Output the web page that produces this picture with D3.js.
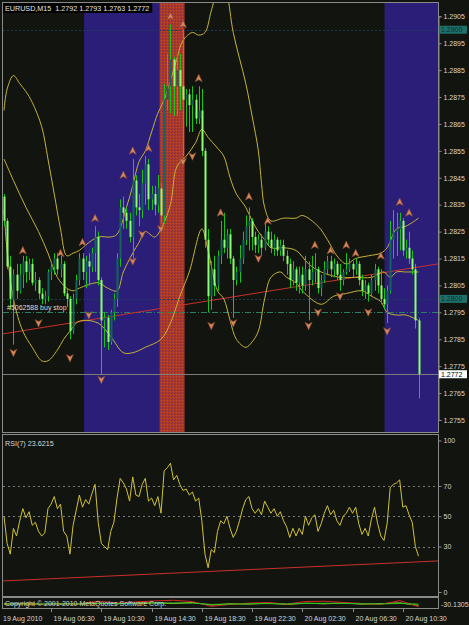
<!DOCTYPE html>
<html>
<head>
<meta charset="utf-8">
<script src="https://cdn.jsdelivr.net/npm/d3@7"></script>
<style>
  body { margin: 0; background: #12150f; }
  svg { display: block; font-family: "Liberation Sans", Arial, sans-serif; }
</style>
</head>
<body>
<script>
// EURUSD M15, 19 Aug 2010 02:45 .. 20 Aug 2010 11:45 (133 bars)
var opens = [1.2838,1.2829,1.2812,1.2800,1.2809,1.2803,1.2809,1.2814,1.2810,1.2813,1.2806,1.2807,1.2802,1.2800,1.2801,1.2810,1.2812,1.2815,1.2811,1.2813,
  1.2802,1.2800,1.2788,1.2800,1.2807,1.2815,1.2810,1.2814,1.2812,1.2817,1.2823,1.2807,1.2792,1.2793,1.2784,1.2795,1.2800,1.2815,1.2834,1.2832,
  1.2829,1.2823,1.2844,1.2834,1.2833,1.2843,1.2850,1.2837,1.2839,1.2835,1.2841,1.2831,1.2874,1.2879,1.2889,1.2879,1.2885,1.2879,1.2874,1.2876,
  1.2872,1.2874,1.2867,1.2870,1.2855,1.2822,1.2801,1.2811,1.2805,1.2816,1.2822,1.2819,1.2824,1.2815,1.2807,1.2810,1.2815,1.2822,1.2827,1.2829,
  1.2823,1.2820,1.2822,1.2819,1.2825,1.2822,1.2819,1.2822,1.2818,1.2820,1.2816,1.2813,1.2807,1.2811,1.2806,1.2809,1.2805,1.2811,1.2807,1.2810,
  1.2811,1.2804,1.2807,1.2811,1.2814,1.2811,1.2813,1.2809,1.2807,1.2810,1.2811,1.2813,1.2811,1.2813,1.2807,1.2803,1.2805,1.2802,1.2807,1.2811,
  1.2805,1.2800,1.2798,1.2803,1.2822,1.2825,1.2826,1.2829,1.2818,1.2819,1.2815,1.2811,1.2792];
var highs = [1.2839,1.2830,1.2816,1.2811,1.2813,1.2813,1.2816,1.2816,1.2815,1.2815,1.2810,1.2808,1.2804,1.2803,1.2811,1.2814,1.2817,1.2817,1.2816,1.2814,
  1.2804,1.2801,1.2802,1.2809,1.2817,1.2817,1.2816,1.2817,1.2819,1.2827,1.2825,1.2808,1.2795,1.2794,1.2796,1.2802,1.2817,1.2837,1.2838,1.2834,
  1.2832,1.2852,1.2846,1.2839,1.2848,1.2853,1.2852,1.2842,1.2842,1.2846,1.2843,1.2880,1.2891,1.2902,1.2890,1.2891,1.2891,1.2900,1.2878,1.2878,
  1.2879,1.2876,1.2879,1.2878,1.2856,1.2826,1.2814,1.2816,1.2818,1.2829,1.2832,1.2826,1.2826,1.2816,1.2812,1.2820,1.2825,1.2831,1.2834,1.2830,
  1.2825,1.2824,1.2824,1.2829,1.2827,1.2825,1.2824,1.2823,1.2822,1.2822,1.2818,1.2815,1.2814,1.2812,1.2812,1.2812,1.2816,1.2814,1.2816,1.2817,
  1.2812,1.2809,1.2814,1.2816,1.2816,1.2815,1.2814,1.2813,1.2811,1.2817,1.2815,1.2814,1.2815,1.2814,1.2809,1.2807,1.2806,1.2809,1.2813,1.2812,
  1.2811,1.2804,1.2805,1.2829,1.2833,1.2832,1.2832,1.2830,1.2822,1.2825,1.2818,1.2813,1.2793];
var lows = [1.2827,1.2811,1.2796,1.2783,1.2800,1.2802,1.2804,1.2806,1.2807,1.2805,1.2803,1.2800,1.2798,1.2798,1.2799,1.2807,1.2809,1.2809,1.2808,1.2801,
  1.2797,1.2785,1.2787,1.2798,1.2805,1.2807,1.2804,1.2805,1.2810,1.2810,1.2805,1.2772,1.2782,1.2781,1.2783,1.2792,1.2797,1.2812,1.2826,1.2826,
  1.2821,1.2815,1.2831,1.2827,1.2830,1.2835,1.2833,1.2833,1.2831,1.2832,1.2828,1.2828,1.2870,1.2869,1.2868,1.2868,1.2870,1.2853,1.2864,1.2862,
  1.2862,1.2865,1.2865,1.2853,1.2819,1.2795,1.2796,1.2801,1.2803,1.2813,1.2817,1.2815,1.2813,1.2793,1.2805,1.2806,1.2813,1.2820,1.2818,1.2818,
  1.2817,1.2817,1.2816,1.2818,1.2820,1.2817,1.2816,1.2816,1.2816,1.2814,1.2809,1.2804,1.2805,1.2803,1.2802,1.2802,1.2803,1.2792,1.2805,1.2806,
  1.2802,1.2801,1.2806,1.2809,1.2808,1.2808,1.2807,1.2803,1.2805,1.2809,1.2810,1.2808,1.2809,1.2805,1.2801,1.2800,1.2799,1.2801,1.2803,1.2802,
  1.2798,1.2796,1.2791,1.2802,1.2815,1.2816,1.2818,1.2816,1.2815,1.2813,1.2809,1.2789,1.2763];
var closes = [1.2829,1.2812,1.2800,1.2809,1.2803,1.2809,1.2814,1.2810,1.2813,1.2806,1.2807,1.2802,1.2800,1.2801,1.2810,1.2812,1.2815,1.2811,1.2813,1.2802,
  1.2800,1.2788,1.2800,1.2807,1.2815,1.2810,1.2814,1.2812,1.2817,1.2823,1.2807,1.2792,1.2793,1.2784,1.2795,1.2800,1.2815,1.2834,1.2832,1.2829,
  1.2823,1.2844,1.2834,1.2833,1.2843,1.2850,1.2837,1.2839,1.2835,1.2841,1.2831,1.2874,1.2879,1.2889,1.2879,1.2885,1.2879,1.2874,1.2876,1.2872,
  1.2874,1.2867,1.2870,1.2855,1.2822,1.2801,1.2811,1.2805,1.2816,1.2822,1.2819,1.2824,1.2815,1.2807,1.2810,1.2815,1.2822,1.2827,1.2829,1.2823,
  1.2820,1.2822,1.2819,1.2825,1.2822,1.2819,1.2822,1.2818,1.2820,1.2816,1.2813,1.2807,1.2811,1.2806,1.2809,1.2805,1.2811,1.2807,1.2810,1.2811,
  1.2804,1.2807,1.2811,1.2814,1.2811,1.2813,1.2809,1.2807,1.2810,1.2811,1.2813,1.2811,1.2813,1.2807,1.2803,1.2805,1.2802,1.2807,1.2811,1.2805,
  1.2800,1.2798,1.2803,1.2822,1.2825,1.2826,1.2829,1.2818,1.2819,1.2815,1.2811,1.2792,1.2772];

// Bollinger bands as [bar, price]
var bbUpper = [[0,1.2870],[1,1.2878],[3,1.2883],[5,1.2880],[7,1.2877],[9,1.2873],[12,1.2864],[14,1.2852],[16,1.2839],[18,1.2826],
  [20,1.2816],[22,1.2817],[24,1.2818],[26,1.2820],[30,1.2823],[34,1.2823],[36,1.2824],[39,1.2834],[41,1.2842],[43,1.2851],
  [45,1.2855],[47,1.2862],[49,1.2869],[51,1.2874],[53,1.2881],[55,1.2889],[57,1.2896],[60,1.2899],[62,1.2898],[64,1.2899],
  [66,1.2907],[68,1.2914],[70,1.2915],[71,1.2913],[73,1.2899],[77,1.2880],[79,1.2868],[81,1.2855],[82,1.2843],[83,1.2834],
  [85,1.2829],[89,1.2830],[93,1.2830],[95,1.2831],[100,1.2827],[103,1.2822],[106,1.2816],[109,1.2813],[112,1.2815],[116,1.2816],
  [120,1.2817],[122,1.2819],[125,1.2826],[128,1.2827],[132,1.2830]];
var bbMiddle = [[0,1.2852],[3,1.2844],[7,1.2834],[11,1.2825],[14,1.2817],[17,1.2808],[20,1.2804],[22,1.2803],[24,1.2804],[30,1.2806],
  [33,1.2804],[36,1.2803],[38,1.2810],[41,1.2817],[43,1.2821],[45,1.2825],[48,1.2823],[50,1.2826],[53,1.2835],[55,1.2849],
  [58,1.2853],[61,1.2858],[63,1.2863],[65,1.2860],[68,1.2856],[70,1.2853],[72,1.2845],[74,1.2839],[77,1.2834],[79,1.2829],
  [81,1.2825],[83,1.2822],[85,1.2819],[89,1.2819],[93,1.2818],[97,1.2813],[101,1.2810],[107,1.2808],[112,1.2808],[117,1.2808],
  [121,1.2810],[123,1.2808],[125,1.2810],[128,1.2810],[132,1.2810]];
var bbLower = [[0,1.2833],[1,1.2818],[3,1.2800],[6,1.2788],[9,1.2782],[12,1.2777],[14,1.2777],[17,1.2781],[19,1.2785],[21,1.2788],
  [23,1.2791],[25,1.2792],[30,1.2791],[34,1.2786],[38,1.2780],[41,1.2780],[45,1.2782],[50,1.2785],[53,1.2791],[56,1.2801],
  [59,1.2810],[63,1.2826],[65,1.2818],[68,1.2803],[70,1.2800],[72,1.2792],[74,1.2785],[77,1.2782],[79,1.2784],[81,1.2788],
  [83,1.2800],[85,1.2808],[88,1.2810],[90,1.2808],[93,1.2806],[95,1.2803],[101,1.2798],[105,1.2801],[109,1.2802],[114,1.2803],
  [117,1.2801],[120,1.2799],[122,1.2795],[125,1.2794],[128,1.2794],[132,1.2792]];

// fractal arrows
var upBars = [6,18,25,29,38,41,46,53,57,62,69,78,84,99,104,109,112,120,126,129];
var upPrices = [1.2818,1.2817,1.2821,1.2830,1.2846,1.2855,1.2856,1.2905,1.2902,1.2882,1.2832,1.2838,1.2829,1.2820,1.2818,1.2820,1.2817,1.2816,1.2836,1.2832];
var downBars = [3,11,21,27,31,41,44,50,57,60,66,73,81,97,100,107,116,122];
var downPrices = [1.2780,1.2791,1.2778,1.2794,1.2770,1.2814,1.2824,1.2826,1.2851,1.2853,1.2790,1.2791,1.2815,1.2790,1.2795,1.2801,1.2795,1.2788];

// RSI(7)
var rsiValues = [50,32,25,42,37,47,55,49,53,44,46,40,37,39,55,58,63,55,58,40,
  37,25,44,54,64,56,61,58,65,71,46,32,30,28,40,46,62,75,72,68,
  60,76,64,63,71,75,60,62,57,63,52,80,82,85,74,77,71,67,68,64,
  66,60,62,47,25,16,28,26,40,47,45,50,42,36,40,47,55,61,63,55,
  52,55,51,60,56,52,55,50,53,47,43,36,42,37,42,38,50,44,49,51,
  40,45,52,57,51,54,47,44,50,52,56,52,56,45,38,42,37,48,56,45,
  37,34,45,69,71,72,74,56,57,51,46,30,23.6215];
var rsiLevels = [30, 50, 70];
var rsiTicks = [0, 30, 50, 70, 100];

// bottom sub-window lines
var oscBars = [0,6,12,18,24,30,36,42,48,54,60,66,72,78,84,90,96,102,108,114,120,126,132];
var oscGreen = [-12,-11,-12,-11,-10,-8,-9,-8,-6,-5,-6,-14,-12,-10,-9,-11,-8,-7,-8,-10,-11,-8,-12];
var oscRed = [-14,-8,-16,-12,-10,6,-4,2,8,12,4,-26,-14,-6,-2,-12,4,6,-2,-8,-14,10,-28];
var oscYellow = [-10,-9,-13,-9,-12,-6,-10,-6,-4,-8,-2,-18,-10,-12,-6,-14,-6,-10,-5,-12,-9,-4,-20];

// trend lines, levels, sessions
var mainTrend = [[-0.3, 1.2787], [138.2, 1.2813]];
var rsiTrend = [[-0.3, 7.3], [138.2, 20.5]];
var levelPrices = [1.2900, 1.2800];
var orderPrice = 1.2795;
var bidPrice = 1.2772;
var sessionFrom = [25.5, 49.5, 121.2];
var sessionTo = [49.5, 57.5, 145];
var sessionKind = ["blue", "red", "blue"];

var priceTicks = [1.2755,1.2765,1.2775,1.2785,1.2795,1.2805,1.2815,1.2825,1.2835,1.2845,1.2855,1.2865,1.2875,1.2885,1.2895,1.2905];
var timeTickBars = [0, 15, 31, 47, 63, 79, 95, 111, 127];
var timeTickLabels = ["19 Aug 2010","19 Aug 06:30","19 Aug 10:30","19 Aug 14:30","19 Aug 18:30","19 Aug 22:30","20 Aug 02:30","20 Aug 06:30","20 Aug 10:30"];

var width = 469, height = 625;
var left = 3, right = 438;
var main_top = 3, main_bottom = 432;
var rsi_top = 435, rsi_bottom = 596;
var osc_top = 598, osc_bottom = 608;
var bg = "#12150f", grey = "#8a8a8a", txt = "#d4d4d4";

var svg = d3.select("body").append("svg")
  .attr("width", width).attr("height", height);

var defs = svg.append("defs");
var pat = defs.append("pattern").attr("id", "redtex")
  .attr("width", 3).attr("height", 3).attr("patternUnits", "userSpaceOnUse");
pat.append("rect").attr("width", 3).attr("height", 3).attr("fill", "#ae3a24");
pat.append("rect").attr("x", 0).attr("y", 0).attr("width", 1).attr("height", 1).attr("fill", "#7a2c52");
pat.append("rect").attr("x", 2).attr("y", 1).attr("width", 1).attr("height", 1).attr("fill", "#c24a2c");
pat.append("rect").attr("x", 1).attr("y", 2).attr("width", 1).attr("height", 1).attr("fill", "#8e3046");

defs.append("clipPath").attr("id", "clipMain").append("rect")
  .attr("x", left).attr("y", main_top).attr("width", right - left).attr("height", main_bottom - main_top);
defs.append("clipPath").attr("id", "clipRsi").append("rect")
  .attr("x", left).attr("y", rsi_top).attr("width", right - left).attr("height", rsi_bottom - rsi_top);
defs.append("clipPath").attr("id", "clipOsc").append("rect")
  .attr("x", left).attr("y", osc_top).attr("width", right - left).attr("height", osc_bottom - osc_top);

svg.append("rect").attr("width", width).attr("height", height).attr("fill", bg);

var x = d3.scaleLinear().domain([0, 132]).range([4, 418.5]);
var y = d3.scaleLinear().domain([1.2755, 1.2905]).range([420, 16.3]);
var yr = d3.scaleLinear().domain([0, 100]).range([592, 440.5]);
var yo = d3.scaleLinear().domain([-30.1305, 20]).range([607, 599]);

// ---------- main window ----------
var main = svg.append("g").attr("clip-path", "url(#clipMain)");

sessionKind.forEach(function(k, i) {
  main.append("rect")
    .attr("x", x(sessionFrom[i])).attr("y", main_top)
    .attr("width", x(sessionTo[i]) - x(sessionFrom[i]))
    .attr("height", main_bottom - main_top)
    .attr("fill", k == "blue" ? "#2a1e78" : "url(#redtex)");
});

main.selectAll("line.level").data(levelPrices).enter().append("line")
  .attr("x1", left).attr("x2", right)
  .attr("y1", function(d) { return Math.round(y(d)) + 0.5; })
  .attr("y2", function(d) { return Math.round(y(d)) + 0.5; })
  .attr("stroke", "#1e3a58").attr("stroke-dasharray", "2,2");

main.append("line")
  .attr("x1", left).attr("x2", right)
  .attr("y1", Math.round(y(orderPrice)) + 0.5).attr("y2", Math.round(y(orderPrice)) + 0.5)
  .attr("stroke", "#2a8062").attr("stroke-dasharray", "6,2,1,2");

main.append("line")
  .attr("x1", left).attr("x2", right)
  .attr("y1", Math.round(y(bidPrice)) + 0.5).attr("y2", Math.round(y(bidPrice)) + 0.5)
  .attr("stroke", "#7c7c7c");

main.append("line")
  .attr("x1", x(mainTrend[0][0])).attr("y1", y(mainTrend[0][1]))
  .attr("x2", x(mainTrend[1][0])).attr("y2", y(mainTrend[1][1]))
  .attr("stroke", "#c8302c").attr("stroke-width", 1);

var bandLine = d3.line()
  .x(function(d) { return x(d[0]); })
  .y(function(d) { return y(d[1]); })
  .curve(d3.curveCatmullRom.alpha(0.5));

[bbUpper, bbMiddle, bbLower].forEach(function(band) {
  main.append("path").datum(band)
    .attr("d", bandLine)
    .attr("fill", "none")
    .attr("stroke", "#c4b23a")
    .attr("stroke-width", 1);
});

// candles
var candles = main.selectAll("g.candle").data(closes).enter().append("g");
candles.append("line")
  .attr("x1", function(d, i) { return Math.round(x(i)) + 0.5; })
  .attr("x2", function(d, i) { return Math.round(x(i)) + 0.5; })
  .attr("y1", function(d, i) { return y(highs[i]); })
  .attr("y2", function(d, i) { return y(lows[i]); })
  .attr("stroke", "#18c418");
candles.append("rect")
  .attr("x", function(d, i) { return Math.round(x(i)) - 0.5; })
  .attr("width", 2)
  .attr("y", function(d, i) { return y(Math.max(opens[i], d)); })
  .attr("height", function(d, i) { return Math.max(1, Math.abs(y(opens[i]) - y(d))); })
  .attr("fill", function(d, i) { return d >= opens[i] ? "#11665c" : "#8cff6c"; });

// fractal arrows
var upShape = "M0,-4L3.5,3.5L0,1.5L-3.5,3.5Z";
var downShape = "M0,4L3.5,-3.5L0,-1.5L-3.5,-3.5Z";
main.selectAll("path.up").data(upBars).enter().append("path")
  .attr("d", upShape)
  .attr("transform", function(d, i) { return "translate(" + x(d) + "," + y(upPrices[i]) + ")"; })
  .attr("fill", "#d88858").attr("stroke", "#8a4a34").attr("stroke-width", 0.6);
main.selectAll("path.down").data(downBars).enter().append("path")
  .attr("d", downShape)
  .attr("transform", function(d, i) { return "translate(" + x(d) + "," + y(downPrices[i]) + ")"; })
  .attr("fill", "#d88858").attr("stroke", "#8a4a34").attr("stroke-width", 0.6);

// order label
svg.append("text")
  .attr("x", 7).attr("y", y(orderPrice) - 2)
  .attr("font-size", "7px").attr("fill", "#d8d8d8")
  .text("#5062588 buy stop");

// title
var title = svg.append("text")
  .attr("x", 5).attr("y", 10.5)
  .attr("font-size", "7.2px").attr("fill", "#e6e6e6")
  .style("white-space", "pre")
  .text("EURUSD,M15  1.2792 1.2793 1.2763 1.2772");
var tw = title.node().getComputedTextLength();
svg.insert("rect", "text")
  .attr("x", left).attr("y", main_top).attr("width", tw + 5).attr("height", 10)
  .attr("fill", "#000");

// ---------- RSI window ----------
var rsi = svg.append("g").attr("clip-path", "url(#clipRsi)");
rsi.selectAll("line.lvl").data(rsiLevels).enter().append("line")
  .attr("x1", left).attr("x2", right)
  .attr("y1", function(d) { return Math.round(yr(d)) + 0.5; })
  .attr("y2", function(d) { return Math.round(yr(d)) + 0.5; })
  .attr("stroke", "#7a7a7a").attr("stroke-dasharray", "2,3");
rsi.append("line")
  .attr("x1", x(rsiTrend[0][0])).attr("y1", yr(rsiTrend[0][1]))
  .attr("x2", x(rsiTrend[1][0])).attr("y2", yr(rsiTrend[1][1]))
  .attr("stroke", "#c8302c");
rsi.append("path").datum(rsiValues)
  .attr("d", d3.line().x(function(d, i) { return x(i); }).y(function(d) { return yr(d); }))
  .attr("fill", "none").attr("stroke", "#d2c236").attr("stroke-width", 1);

svg.append("text")
  .attr("x", 5).attr("y", 445.5)
  .attr("font-size", "7.2px").attr("fill", "#d8d8d8")
  .text("RSI(7) 23.6215");

// ---------- bottom sub-window ----------
var osc = svg.append("g").attr("clip-path", "url(#clipOsc)");
var oscLine = function(vals) {
  return d3.line().x(function(d, i) { return x(oscBars[i]); }).y(function(d) { return yo(d); })(vals);
};
[[oscYellow, "#c8c028"], [oscRed, "#d02424"], [oscGreen, "#22c422"]].forEach(function(s) {
  osc.append("path").attr("d", oscLine(s[0]))
    .attr("fill", "none").attr("stroke", s[1]).attr("stroke-width", 1);
});
svg.append("text")
  .attr("x", 5).attr("y", 606)
  .attr("font-size", "7px").attr("fill", "#d0d0d0")
  .text("Copyright \u00a9 2001-2010 MetaQuotes Software Corp.");

// ---------- frames ----------
[[main_top, main_bottom], [rsi_top, rsi_bottom], [osc_top, osc_bottom]].forEach(function(p) {
  svg.append("rect")
    .attr("x", left - 0.5).attr("y", p[0] - 0.5)
    .attr("width", right - left + 1).attr("height", p[1] - p[0] + 1)
    .attr("fill", "none").attr("stroke", grey);
});

// ---------- right axes ----------
function styleAxis(g) {
  g.select(".domain").attr("stroke", grey);
  g.selectAll(".tick line").attr("stroke", grey);
  g.selectAll(".tick text").attr("fill", txt).attr("font-size", "7px")
    .attr("font-family", "Liberation Sans, Arial, sans-serif");
}
var axMain = svg.append("g").attr("transform", "translate(" + (right + 0.5) + ",0)")
  .call(d3.axisRight(y).tickValues(priceTicks).tickFormat(d3.format(".4f")).tickSize(3).tickPadding(2));
styleAxis(axMain);
var axRsi = svg.append("g").attr("transform", "translate(" + (right + 0.5) + ",0)")
  .call(d3.axisRight(yr).tickValues(rsiTicks).tickFormat(d3.format("d")).tickSize(3).tickPadding(2));
styleAxis(axRsi);
axRsi.select(".domain").remove();

svg.append("text")
  .attr("x", right + 3).attr("y", 607)
  .attr("font-size", "7px").attr("fill", txt)
  .text("-30.1305");

// price tags
function priceTag(p, fill, color) {
  var yy = y(p);
  svg.append("rect")
    .attr("x", right + 1).attr("y", yy - 4).attr("width", 28).attr("height", 8)
    .attr("fill", fill);
  svg.append("text")
    .attr("x", right + 3).attr("y", yy + 2.5)
    .attr("font-size", "7px").attr("fill", color)
    .text(d3.format(".4f")(p));
}
levelPrices.forEach(function(p) { priceTag(p, "#1e6f6a", "#0d302d"); });
priceTag(bidPrice, "#ffffff", "#000000");

// ---------- time axis ----------
var tAxis = svg.append("g");
timeTickBars.forEach(function(b, i) {
  var tx = Math.round(x(b)) + 0.5;
  if (i > 0) {
    tAxis.append("line")
      .attr("x1", tx).attr("x2", tx).attr("y1", osc_bottom).attr("y2", osc_bottom + 4)
      .attr("stroke", grey);
  }
  tAxis.append("text")
    .attr("x", i > 0 ? tx + 2 : 3).attr("y", 620.5)
    .attr("font-size", "7px").attr("fill", txt)
    .text(timeTickLabels[i]);
});
</script>
</body>
</html>
